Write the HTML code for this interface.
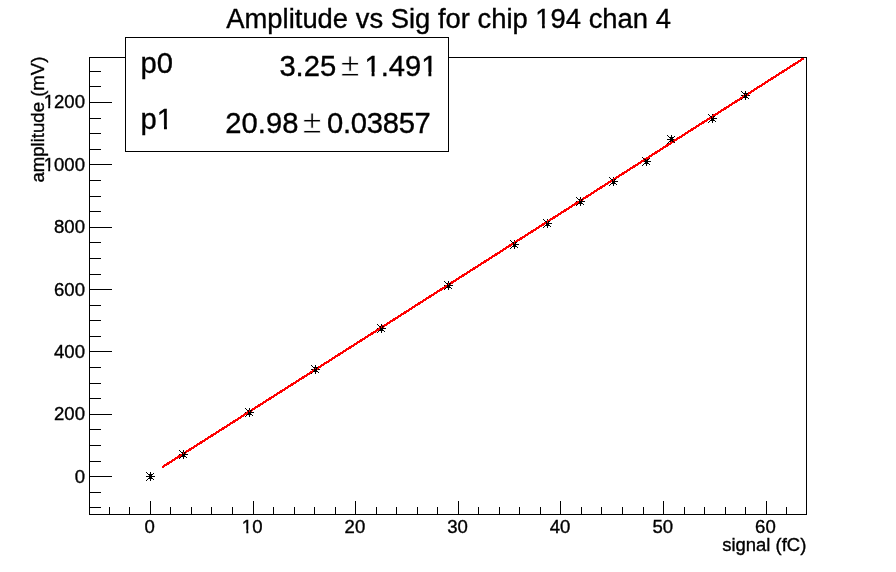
<!DOCTYPE html>
<html lang="en"><head><meta charset="utf-8"><title>Amplitude vs Sig for chip 194 chan 4</title>
<style>html,body{margin:0;padding:0;background:#fff;overflow:hidden}svg{display:block;will-change:transform}text{font-family:"Liberation Sans",Arial,Helvetica,sans-serif;fill:#000;stroke:#000;stroke-width:0.35px}.lab{font-size:18.6px}.ttl{font-size:27.4px}.st{font-size:29.2px}</style></head><body>
<svg width="896" height="572" viewBox="0 0 896 572">
<rect x="0" y="0" width="896" height="572" fill="#fff"/>
<g shape-rendering="crispEdges" fill="#000"><g transform="translate(150,476)"><rect x="-4" y="0" width="9" height="1"/><rect x="0" y="-4" width="1" height="9"/><rect x="-4" y="-4" width="1" height="1"/><rect x="-3" y="-3" width="1" height="1"/><rect x="3" y="-3" width="1" height="1"/><rect x="3" y="3" width="1" height="1"/><rect x="-3" y="3" width="1" height="1"/><rect x="-4" y="4" width="1" height="1"/></g><g transform="translate(183,454)"><rect x="-4" y="0" width="9" height="1"/><rect x="0" y="-4" width="1" height="9"/><rect x="-4" y="-4" width="1" height="1"/><rect x="-3" y="-3" width="1" height="1"/><rect x="3" y="-3" width="1" height="1"/><rect x="3" y="3" width="1" height="1"/><rect x="-3" y="3" width="1" height="1"/><rect x="-4" y="4" width="1" height="1"/></g><g transform="translate(249,412)"><rect x="-4" y="0" width="9" height="1"/><rect x="0" y="-4" width="1" height="9"/><rect x="-4" y="-4" width="1" height="1"/><rect x="-3" y="-3" width="1" height="1"/><rect x="3" y="-3" width="1" height="1"/><rect x="3" y="3" width="1" height="1"/><rect x="-3" y="3" width="1" height="1"/><rect x="-4" y="4" width="1" height="1"/></g><g transform="translate(315,369)"><rect x="-4" y="0" width="9" height="1"/><rect x="0" y="-4" width="1" height="9"/><rect x="-4" y="-4" width="1" height="1"/><rect x="-3" y="-3" width="1" height="1"/><rect x="3" y="-3" width="1" height="1"/><rect x="3" y="3" width="1" height="1"/><rect x="-3" y="3" width="1" height="1"/><rect x="-4" y="4" width="1" height="1"/></g><g transform="translate(381,328)"><rect x="-4" y="0" width="9" height="1"/><rect x="0" y="-4" width="1" height="9"/><rect x="-4" y="-4" width="1" height="1"/><rect x="-3" y="-3" width="1" height="1"/><rect x="3" y="-3" width="1" height="1"/><rect x="3" y="3" width="1" height="1"/><rect x="-3" y="3" width="1" height="1"/><rect x="-4" y="4" width="1" height="1"/></g><g transform="translate(448,285)"><rect x="-4" y="0" width="9" height="1"/><rect x="0" y="-4" width="1" height="9"/><rect x="-4" y="-4" width="1" height="1"/><rect x="-3" y="-3" width="1" height="1"/><rect x="3" y="-3" width="1" height="1"/><rect x="3" y="3" width="1" height="1"/><rect x="-3" y="3" width="1" height="1"/><rect x="-4" y="4" width="1" height="1"/></g><g transform="translate(514,244)"><rect x="-4" y="0" width="9" height="1"/><rect x="0" y="-4" width="1" height="9"/><rect x="-4" y="-4" width="1" height="1"/><rect x="-3" y="-3" width="1" height="1"/><rect x="3" y="-3" width="1" height="1"/><rect x="3" y="3" width="1" height="1"/><rect x="-3" y="3" width="1" height="1"/><rect x="-4" y="4" width="1" height="1"/></g><g transform="translate(547,223)"><rect x="-4" y="0" width="9" height="1"/><rect x="0" y="-4" width="1" height="9"/><rect x="-4" y="-4" width="1" height="1"/><rect x="-3" y="-3" width="1" height="1"/><rect x="3" y="-3" width="1" height="1"/><rect x="3" y="3" width="1" height="1"/><rect x="-3" y="3" width="1" height="1"/><rect x="-4" y="4" width="1" height="1"/></g><g transform="translate(580,201)"><rect x="-4" y="0" width="9" height="1"/><rect x="0" y="-4" width="1" height="9"/><rect x="-4" y="-4" width="1" height="1"/><rect x="-3" y="-3" width="1" height="1"/><rect x="3" y="-3" width="1" height="1"/><rect x="3" y="3" width="1" height="1"/><rect x="-3" y="3" width="1" height="1"/><rect x="-4" y="4" width="1" height="1"/></g><g transform="translate(613,181)"><rect x="-4" y="0" width="9" height="1"/><rect x="0" y="-4" width="1" height="9"/><rect x="-4" y="-4" width="1" height="1"/><rect x="-3" y="-3" width="1" height="1"/><rect x="3" y="-3" width="1" height="1"/><rect x="3" y="3" width="1" height="1"/><rect x="-3" y="3" width="1" height="1"/><rect x="-4" y="4" width="1" height="1"/></g><g transform="translate(646,161)"><rect x="-4" y="0" width="9" height="1"/><rect x="0" y="-4" width="1" height="9"/><rect x="-4" y="-4" width="1" height="1"/><rect x="-3" y="-3" width="1" height="1"/><rect x="3" y="-3" width="1" height="1"/><rect x="3" y="3" width="1" height="1"/><rect x="-3" y="3" width="1" height="1"/><rect x="-4" y="4" width="1" height="1"/></g><g transform="translate(671,139)"><rect x="-4" y="0" width="9" height="1"/><rect x="0" y="-4" width="1" height="9"/><rect x="-4" y="-4" width="1" height="1"/><rect x="-3" y="-3" width="1" height="1"/><rect x="3" y="-3" width="1" height="1"/><rect x="3" y="3" width="1" height="1"/><rect x="-3" y="3" width="1" height="1"/><rect x="-4" y="4" width="1" height="1"/></g><g transform="translate(712,118)"><rect x="-4" y="0" width="9" height="1"/><rect x="0" y="-4" width="1" height="9"/><rect x="-4" y="-4" width="1" height="1"/><rect x="-3" y="-3" width="1" height="1"/><rect x="3" y="-3" width="1" height="1"/><rect x="3" y="3" width="1" height="1"/><rect x="-3" y="3" width="1" height="1"/><rect x="-4" y="4" width="1" height="1"/></g><g transform="translate(745,95)"><rect x="-4" y="0" width="9" height="1"/><rect x="0" y="-4" width="1" height="9"/><rect x="-4" y="-4" width="1" height="1"/><rect x="-3" y="-3" width="1" height="1"/><rect x="3" y="-3" width="1" height="1"/><rect x="3" y="3" width="1" height="1"/><rect x="-3" y="3" width="1" height="1"/><rect x="-4" y="4" width="1" height="1"/></g></g>
<line x1="162.3" y1="467.18" x2="803.6" y2="58.41" stroke="#ff0000" stroke-width="2.3" shape-rendering="crispEdges"/>
<g shape-rendering="crispEdges" fill="#000"><g transform="translate(150,476)"><rect x="-1" y="-2" width="1" height="5"/><rect x="1" y="-2" width="1" height="5"/><rect x="-2" y="-2" width="1" height="1"/><rect x="2" y="-2" width="1" height="1"/><rect x="-2" y="2" width="1" height="1"/><rect x="2" y="2" width="1" height="1"/><rect x="0" y="0" width="1" height="2"/></g><g transform="translate(183,454)"><rect x="-1" y="-2" width="1" height="5"/><rect x="1" y="-2" width="1" height="5"/><rect x="-2" y="-2" width="1" height="1"/><rect x="2" y="-2" width="1" height="1"/><rect x="-2" y="2" width="1" height="1"/><rect x="2" y="2" width="1" height="1"/><rect x="0" y="0" width="1" height="2"/></g><g transform="translate(249,412)"><rect x="-1" y="-2" width="1" height="5"/><rect x="1" y="-2" width="1" height="5"/><rect x="-2" y="-2" width="1" height="1"/><rect x="2" y="-2" width="1" height="1"/><rect x="-2" y="2" width="1" height="1"/><rect x="2" y="2" width="1" height="1"/><rect x="0" y="0" width="1" height="2"/></g><g transform="translate(315,369)"><rect x="-1" y="-2" width="1" height="5"/><rect x="1" y="-2" width="1" height="5"/><rect x="-2" y="-2" width="1" height="1"/><rect x="2" y="-2" width="1" height="1"/><rect x="-2" y="2" width="1" height="1"/><rect x="2" y="2" width="1" height="1"/><rect x="0" y="0" width="1" height="2"/></g><g transform="translate(381,328)"><rect x="-1" y="-2" width="1" height="5"/><rect x="1" y="-2" width="1" height="5"/><rect x="-2" y="-2" width="1" height="1"/><rect x="2" y="-2" width="1" height="1"/><rect x="-2" y="2" width="1" height="1"/><rect x="2" y="2" width="1" height="1"/><rect x="0" y="0" width="1" height="2"/></g><g transform="translate(448,285)"><rect x="-1" y="-2" width="1" height="5"/><rect x="1" y="-2" width="1" height="5"/><rect x="-2" y="-2" width="1" height="1"/><rect x="2" y="-2" width="1" height="1"/><rect x="-2" y="2" width="1" height="1"/><rect x="2" y="2" width="1" height="1"/><rect x="0" y="0" width="1" height="2"/></g><g transform="translate(514,244)"><rect x="-1" y="-2" width="1" height="5"/><rect x="1" y="-2" width="1" height="5"/><rect x="-2" y="-2" width="1" height="1"/><rect x="2" y="-2" width="1" height="1"/><rect x="-2" y="2" width="1" height="1"/><rect x="2" y="2" width="1" height="1"/><rect x="0" y="0" width="1" height="2"/></g><g transform="translate(547,223)"><rect x="-1" y="-2" width="1" height="5"/><rect x="1" y="-2" width="1" height="5"/><rect x="-2" y="-2" width="1" height="1"/><rect x="2" y="-2" width="1" height="1"/><rect x="-2" y="2" width="1" height="1"/><rect x="2" y="2" width="1" height="1"/><rect x="0" y="0" width="1" height="2"/></g><g transform="translate(580,201)"><rect x="-1" y="-2" width="1" height="5"/><rect x="1" y="-2" width="1" height="5"/><rect x="-2" y="-2" width="1" height="1"/><rect x="2" y="-2" width="1" height="1"/><rect x="-2" y="2" width="1" height="1"/><rect x="2" y="2" width="1" height="1"/><rect x="0" y="0" width="1" height="2"/></g><g transform="translate(613,181)"><rect x="-1" y="-2" width="1" height="5"/><rect x="1" y="-2" width="1" height="5"/><rect x="-2" y="-2" width="1" height="1"/><rect x="2" y="-2" width="1" height="1"/><rect x="-2" y="2" width="1" height="1"/><rect x="2" y="2" width="1" height="1"/><rect x="0" y="0" width="1" height="2"/></g><g transform="translate(646,161)"><rect x="-1" y="-2" width="1" height="5"/><rect x="1" y="-2" width="1" height="5"/><rect x="-2" y="-2" width="1" height="1"/><rect x="2" y="-2" width="1" height="1"/><rect x="-2" y="2" width="1" height="1"/><rect x="2" y="2" width="1" height="1"/><rect x="0" y="0" width="1" height="2"/></g><g transform="translate(671,139)"><rect x="-1" y="-2" width="1" height="5"/><rect x="1" y="-2" width="1" height="5"/><rect x="-2" y="-2" width="1" height="1"/><rect x="2" y="-2" width="1" height="1"/><rect x="-2" y="2" width="1" height="1"/><rect x="2" y="2" width="1" height="1"/><rect x="0" y="0" width="1" height="2"/></g><g transform="translate(712,118)"><rect x="-1" y="-2" width="1" height="5"/><rect x="1" y="-2" width="1" height="5"/><rect x="-2" y="-2" width="1" height="1"/><rect x="2" y="-2" width="1" height="1"/><rect x="-2" y="2" width="1" height="1"/><rect x="2" y="2" width="1" height="1"/><rect x="0" y="0" width="1" height="2"/></g><g transform="translate(745,95)"><rect x="-1" y="-2" width="1" height="5"/><rect x="1" y="-2" width="1" height="5"/><rect x="-2" y="-2" width="1" height="1"/><rect x="2" y="-2" width="1" height="1"/><rect x="-2" y="2" width="1" height="1"/><rect x="2" y="2" width="1" height="1"/><rect x="0" y="0" width="1" height="2"/></g></g>
<g shape-rendering="crispEdges" fill="#000"><rect x="89" y="57" width="718" height="1"/><rect x="89" y="514" width="718" height="1"/><rect x="89" y="57" width="1" height="458"/><rect x="806" y="57" width="1" height="458"/><rect x="109" y="507" width="1" height="8"/><rect x="129" y="507" width="1" height="8"/><rect x="150" y="501" width="1" height="14"/><rect x="170" y="507" width="1" height="8"/><rect x="191" y="507" width="1" height="8"/><rect x="211" y="507" width="1" height="8"/><rect x="232" y="507" width="1" height="8"/><rect x="253" y="501" width="1" height="14"/><rect x="273" y="507" width="1" height="8"/><rect x="294" y="507" width="1" height="8"/><rect x="314" y="507" width="1" height="8"/><rect x="335" y="507" width="1" height="8"/><rect x="355" y="501" width="1" height="14"/><rect x="376" y="507" width="1" height="8"/><rect x="396" y="507" width="1" height="8"/><rect x="417" y="507" width="1" height="8"/><rect x="437" y="507" width="1" height="8"/><rect x="458" y="501" width="1" height="14"/><rect x="478" y="507" width="1" height="8"/><rect x="499" y="507" width="1" height="8"/><rect x="519" y="507" width="1" height="8"/><rect x="540" y="507" width="1" height="8"/><rect x="560" y="501" width="1" height="14"/><rect x="581" y="507" width="1" height="8"/><rect x="601" y="507" width="1" height="8"/><rect x="622" y="507" width="1" height="8"/><rect x="643" y="507" width="1" height="8"/><rect x="663" y="501" width="1" height="14"/><rect x="684" y="507" width="1" height="8"/><rect x="704" y="507" width="1" height="8"/><rect x="725" y="507" width="1" height="8"/><rect x="745" y="507" width="1" height="8"/><rect x="766" y="501" width="1" height="14"/><rect x="786" y="507" width="1" height="8"/><rect x="89" y="507" width="12" height="1"/><rect x="89" y="492" width="12" height="1"/><rect x="89" y="476" width="23" height="1"/><rect x="89" y="461" width="12" height="1"/><rect x="89" y="445" width="12" height="1"/><rect x="89" y="429" width="12" height="1"/><rect x="89" y="414" width="23" height="1"/><rect x="89" y="398" width="12" height="1"/><rect x="89" y="383" width="12" height="1"/><rect x="89" y="367" width="12" height="1"/><rect x="89" y="351" width="23" height="1"/><rect x="89" y="336" width="12" height="1"/><rect x="89" y="320" width="12" height="1"/><rect x="89" y="305" width="12" height="1"/><rect x="89" y="289" width="23" height="1"/><rect x="89" y="274" width="12" height="1"/><rect x="89" y="258" width="12" height="1"/><rect x="89" y="242" width="12" height="1"/><rect x="89" y="227" width="23" height="1"/><rect x="89" y="211" width="12" height="1"/><rect x="89" y="196" width="12" height="1"/><rect x="89" y="180" width="12" height="1"/><rect x="89" y="164" width="23" height="1"/><rect x="89" y="149" width="12" height="1"/><rect x="89" y="133" width="12" height="1"/><rect x="89" y="118" width="12" height="1"/><rect x="89" y="102" width="23" height="1"/><rect x="89" y="86" width="12" height="1"/><rect x="89" y="71" width="12" height="1"/></g>
<g transform="matrix(1 0 0 1.035 0 -18.655)"><text class="lab" x="149.6" y="533" text-anchor="middle">0</text></g>
<g transform="matrix(1 0 0 1.035 0 -18.655)"><text class="lab" x="252.2" y="533" text-anchor="middle">10</text><rect x="242.28" y="529.81" width="4.09" height="4.99" fill="#fff"/><rect x="248.36" y="529.81" width="3.94" height="4.99" fill="#fff"/></g>
<g transform="matrix(1 0 0 1.035 0 -18.655)"><text class="lab" x="354.9" y="533" text-anchor="middle">20</text></g>
<g transform="matrix(1 0 0 1.035 0 -18.655)"><text class="lab" x="457.5" y="533" text-anchor="middle">30</text></g>
<g transform="matrix(1 0 0 1.035 0 -18.655)"><text class="lab" x="560.1" y="533" text-anchor="middle">40</text></g>
<g transform="matrix(1 0 0 1.035 0 -18.655)"><text class="lab" x="662.8" y="533" text-anchor="middle">50</text></g>
<g transform="matrix(1 0 0 1.035 0 -18.655)"><text class="lab" x="765.4" y="533" text-anchor="middle">60</text></g>
<g transform="matrix(1 0 0 1.035 0 -16.894)"><text class="lab" x="85.0" y="482.7" text-anchor="end">0</text></g>
<g transform="matrix(1 0 0 1.035 0 -14.710)"><text class="lab" x="85.0" y="420.3" text-anchor="end">200</text></g>
<g transform="matrix(1 0 0 1.035 0 -12.526)"><text class="lab" x="85.0" y="357.9" text-anchor="end">400</text></g>
<g transform="matrix(1 0 0 1.035 0 -10.346)"><text class="lab" x="85.0" y="295.6" text-anchor="end">600</text></g>
<g transform="matrix(1 0 0 1.035 0 -8.162)"><text class="lab" x="85.0" y="233.2" text-anchor="end">800</text></g>
<g transform="matrix(1 0 0 1.035 0 -5.981)"><text class="lab" x="85.0" y="170.9" text-anchor="end">1000</text><rect x="44.08" y="167.71" width="4.09" height="4.99" fill="#fff"/><rect x="50.16" y="167.71" width="3.94" height="4.99" fill="#fff"/></g>
<g transform="matrix(1 0 0 1.035 0 -3.797)"><text class="lab" x="85.0" y="108.5" text-anchor="end">1200</text><rect x="44.08" y="105.31" width="4.09" height="4.99" fill="#fff"/><rect x="50.16" y="105.31" width="3.94" height="4.99" fill="#fff"/></g>
<g transform="matrix(1 0 0 1.035 0 -19.288)"><text class="lab" x="806.4" y="551.1" text-anchor="end" style="font-size:18.5px">signal (fC)</text></g>
<g transform="matrix(1 0 0 1.035 0 -0.976)"><text class="ttl" x="226.3" y="27.9">Amplitude vs Sig for chip 194 chan 4</text><rect x="536.43" y="24.05" width="5.63" height="5.65" fill="#fff"/><rect x="544.83" y="24.05" width="5.41" height="5.65" fill="#fff"/></g>
<g shape-rendering="crispEdges"><rect x="125.5" y="37.5" width="323" height="114" fill="#fff" stroke="#000" stroke-width="1"/></g>
<g transform="matrix(1 0 0 1.0 0 0.000)"><text class="st" x="140.6" y="73.2">p0</text></g>
<g transform="matrix(1 0 0 1.0 0 0.000)"><text class="st" x="140.6" y="129.4">p1</text><rect x="158.04" y="125.42" width="5.94" height="5.78" fill="#fff"/><rect x="166.92" y="125.42" width="5.72" height="5.78" fill="#fff"/></g>
<g transform="matrix(1 0 0 1.035 0 -2.660)"><text class="st" x="336.2" y="76" text-anchor="end">3.25</text></g>
<g transform="matrix(1 0 0 1.0 0 0.000)"><text class="st" x="350" y="76.2" text-anchor="middle" style="font-size:34px;stroke:#fff;stroke-width:0.8px">±</text></g>
<g transform="matrix(1 0 0 1.035 0 -2.660)"><text class="st" x="437.5" y="76" text-anchor="end">1.491</text><rect x="365.67" y="72.02" width="5.94" height="5.78" fill="#fff"/><rect x="374.54" y="72.02" width="5.72" height="5.78" fill="#fff"/><rect x="422.46" y="72.02" width="5.94" height="5.78" fill="#fff"/><rect x="431.34" y="72.02" width="5.72" height="5.78" fill="#fff"/></g>
<g transform="matrix(1 0 0 1.035 0 -4.651)"><text class="st" x="298.4" y="132.9" text-anchor="end">20.98</text></g>
<g transform="matrix(1 0 0 1.0 0 0.000)"><text class="st" x="312" y="133.1" text-anchor="middle" style="font-size:34px;stroke:#fff;stroke-width:0.8px">±</text></g>
<g transform="matrix(1 0 0 1.035 0 -4.651)"><text class="st" x="430.5" y="132.9" text-anchor="end" style="letter-spacing:-0.3px">0.03857</text></g>
<text class="lab" transform="translate(43.6,56.6) rotate(-90) scale(1,1.035)" text-anchor="end">amplitude (mV)</text>
</svg></body></html>
